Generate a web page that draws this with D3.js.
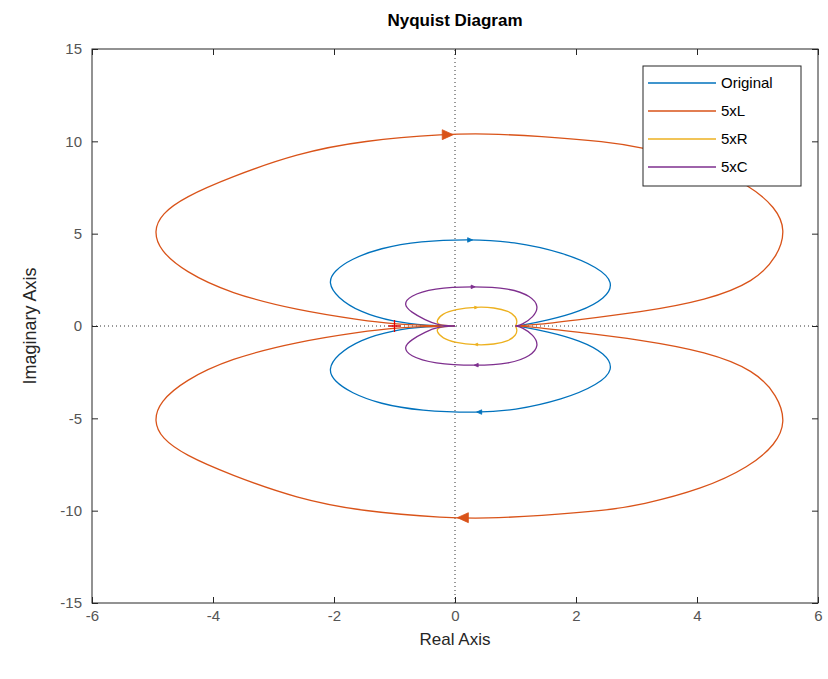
<!DOCTYPE html>
<html><head><meta charset="utf-8">
<script src="https://cdn.jsdelivr.net/npm/d3@7"></script>
<style>body{margin:0;background:#fff}svg{display:block}text{font-family:"Liberation Sans",Arial,sans-serif}</style>
</head><body><svg id="c" width="828" height="679"></svg>
<script>
// ---- data (real, imag) ----
const seriesNames = ["Original", "5xL", "5xR", "5xC"];
const seriesColors = ["#0072BD", "#D95319", "#EDB120", "#7E2F8E"];
const xTicks = [-6, -4, -2, 0, 2, 4, 6];
const yTicks = [-15, -10, -5, 0, 5, 10, 15];

const originalUpper = [[0,0],[-0.46,0.02],[-1.02,0.22],[-1.57,0.74],[-1.95,1.55],[-2.1,2.35],[-2.0,2.98],[-1.72,3.62],[-1.24,4.22],[-0.58,4.6],[0.25,4.7],[0.96,4.58],[1.79,3.98],[2.37,3.17],[2.63,2.35],[2.49,1.5],[2.07,0.78],[1.52,0.3],[1.07,0.02],[1,0]];
const originalLower = [[1,0],[1.07,-0.02],[1.52,-0.3],[2.07,-0.78],[2.49,-1.5],[2.63,-2.35],[2.37,-3.17],[1.79,-3.98],[0.96,-4.58],[0.4,-4.7],[-0.58,-4.6],[-1.24,-4.22],[-1.72,-3.62],[-2.0,-2.98],[-2.1,-2.35],[-1.95,-1.55],[-1.57,-0.74],[-1.02,-0.22],[-0.46,-0.02],[0,0]];

const fiveLUpper = [[0,0],[-0.5,0.03],[-1.02,0.11],[-1.52,0.3],[-2.61,0.85],[-3.72,1.77],[-4.47,2.95],[-4.88,4.1],[-4.98,5.15],[-4.85,6.08],[-4.47,6.98],[-3.72,8.05],[-2.61,9.35],[-1.52,10.05],[-0.12,10.4],[0.5,10.42],[1.4,10.28],[2.51,9.98],[3.06,9.7],[4.1,8.82],[4.87,7.62],[5.3,6.42],[5.47,5.2],[5.33,3.75],[4.95,2.4],[4.17,1.4],[3.06,0.74],[1.95,0.3],[1.29,0.05],[1,0]];
const fiveLLower = [[1,0],[1.29,-0.05],[1.95,-0.3],[3.06,-0.74],[4.17,-1.4],[4.95,-2.4],[5.33,-3.75],[5.47,-5.2],[5.3,-6.42],[4.87,-7.62],[4.1,-8.82],[3.06,-9.7],[2.51,-9.98],[1.4,-10.28],[0.5,-10.42],[-0.12,-10.4],[-1.52,-10.05],[-2.61,-9.35],[-3.72,-8.05],[-4.47,-6.98],[-4.85,-6.08],[-4.98,-5.15],[-4.88,-4.1],[-4.47,-2.95],[-3.72,-1.77],[-2.61,-0.85],[-1.52,-0.3],[-1.02,-0.11],[-0.5,-0.03],[0,0]];

const fiveRUpper = [[0,0],[-0.28,0.03],[-0.31,0.3],[-0.21,0.66],[0.0,0.9],[0.35,1.04],[0.65,1.0],[0.89,0.81],[1.01,0.5],[1.03,0.2],[1,0]];
const fiveRLower = [[1,0],[1.03,-0.2],[1.01,-0.5],[0.89,-0.81],[0.65,-1.0],[0.35,-1.04],[0.0,-0.9],[-0.21,-0.66],[-0.31,-0.3],[-0.28,-0.03],[0,0]];

const fiveCUpper = [[0,0],[-0.28,0.04],[-0.49,0.32],[-0.73,0.76],[-0.85,1.15],[-0.76,1.62],[-0.36,2.05],[0.3,2.16],[0.91,2.05],[1.26,1.62],[1.39,1.05],[1.3,0.49],[1.1,0.05],[1,0]];
const fiveCLower = [[1,0],[1.1,-0.05],[1.3,-0.49],[1.39,-1.05],[1.26,-1.62],[0.91,-2.05],[0.35,-2.16],[-0.36,-2.05],[-0.76,-1.62],[-0.85,-1.15],[-0.73,-0.76],[-0.49,-0.32],[-0.28,-0.04],[0,0]];

// arrow markers: [x, y, direction(+1 right / -1 left), size]
const arrowsOriginal = [[0.25,4.66,1,5],[0.4,-4.66,-1,5]];
const arrowsFiveL = [[-0.12,10.36,1,11],[0.13,-10.38,-1,11]];
const arrowsFiveR = [[0.35,1.0,1,3],[0.35,-1.0,-1,3]];
const arrowsFiveC = [[0.3,2.12,1,4],[0.35,-2.12,-1,4]];
const criticalPoint = [-1, 0];

const curves = [
  {up: originalUpper, lo: originalLower, ar: arrowsOriginal},
  {up: fiveLUpper, lo: fiveLLower, ar: arrowsFiveL},
  {up: fiveRUpper, lo: fiveRLower, ar: arrowsFiveR},
  {up: fiveCUpper, lo: fiveCLower, ar: arrowsFiveC}
];

// ---- layout ----
const pL = 92, pR = 818, pT = 49, pB = 603;
const svg = d3.select("#c");
const x = d3.scaleLinear().domain([-6, 6]).range([pL, pR]);
const y = d3.scaleLinear().domain([-15, 15]).range([pB, pT]);
const axisColor = "#262626", tickText = "#555";

// zero lines
svg.append("line").attr("x1", x(-6)).attr("x2", x(6)).attr("y1", y(0)).attr("y2", y(0))
  .attr("stroke", "#333").attr("stroke-width", 1).attr("stroke-dasharray", "1,3");
svg.append("line").attr("x1", x(0)).attr("x2", x(0)).attr("y1", y(-15)).attr("y2", y(15))
  .attr("stroke", "#333").attr("stroke-width", 1).attr("stroke-dasharray", "1,3");

const lineGen = d3.line().x(d => x(d[0])).y(d => y(d[1])).curve(d3.curveBasis);
const g = svg.append("g");
curves.forEach((c, i) => {
  [c.up, c.lo].forEach(pts => {
    g.append("path").attr("d", lineGen(pts)).attr("fill", "none")
      .attr("stroke", seriesColors[i]).attr("stroke-width", 1.3);
  });
  c.ar.forEach(a => {
    const cx = x(a[0]), cy = y(a[1]), s = a[3], d = a[2];
    g.append("path")
      .attr("d", `M${cx + d * s / 2},${cy} L${cx - d * s / 2},${cy - s * 0.45} L${cx - d * s / 2},${cy + s * 0.45} Z`)
      .attr("fill", seriesColors[i]).attr("stroke", seriesColors[i]).attr("stroke-width", 0.8);
  });
});
// critical point +
svg.append("path")
  .attr("d", `M${x(criticalPoint[0]) - 6},${y(criticalPoint[1])} h12 M${x(criticalPoint[0])},${y(criticalPoint[1]) - 6} v12`)
  .attr("stroke", "#e00000").attr("stroke-width", 1.3);

// axes box with inward ticks
const ax = svg.append("g");
ax.append("rect").attr("x", pL).attr("y", pT).attr("width", pR - pL).attr("height", pB - pT)
  .attr("fill", "none").attr("stroke", axisColor).attr("stroke-width", 1);
const fmt = d => String(d);
const axB = d3.axisBottom(x).tickValues(xTicks).tickSizeInner(-6).tickSizeOuter(0).tickPadding(7).tickFormat(fmt);
const axT = d3.axisTop(x).tickValues(xTicks).tickSizeInner(-6).tickSizeOuter(0).tickFormat("");
const axL = d3.axisLeft(y).tickValues(yTicks).tickSizeInner(-6).tickSizeOuter(0).tickPadding(10).tickFormat(fmt);
const axR = d3.axisRight(y).tickValues(yTicks).tickSizeInner(-6).tickSizeOuter(0).tickFormat("");
function styleAxis(sel) {
  sel.select(".domain").remove();
  sel.selectAll(".tick line").attr("stroke", axisColor);
  sel.selectAll(".tick text").attr("fill", tickText).style("font-size", "15px").style("font-family", '"Liberation Sans",Arial,sans-serif');
}
ax.append("g").attr("transform", `translate(0,${pB})`).call(axB).call(styleAxis);
ax.append("g").attr("transform", `translate(0,${pT})`).call(axT).call(styleAxis);
ax.append("g").attr("transform", `translate(${pL},0)`).call(axL).call(styleAxis);
ax.append("g").attr("transform", `translate(${pR},0)`).call(axR).call(styleAxis);

// title and labels
svg.append("text").attr("x", (pL + pR) / 2).attr("y", 26).attr("text-anchor", "middle")
  .style("font-size", "17px").style("font-weight", "bold").attr("fill", "#000").text("Nyquist Diagram");
svg.append("text").attr("x", (pL + pR) / 2).attr("y", 645).attr("text-anchor", "middle")
  .style("font-size", "17px").attr("fill", axisColor).text("Real Axis");
svg.append("text").attr("transform", `translate(36,${(pT + pB) / 2}) rotate(-90)`).attr("text-anchor", "middle")
  .style("font-size", "18px").attr("fill", axisColor).text("Imaginary Axis");

// legend
const lg = svg.append("g");
lg.append("rect").attr("x", 643).attr("y", 66).attr("width", 158).attr("height", 120)
  .attr("fill", "#fff").attr("stroke", axisColor).attr("stroke-width", 1);
seriesNames.forEach((n, i) => {
  const yy = 83 + i * 28;
  lg.append("line").attr("x1", 648).attr("x2", 716).attr("y1", yy).attr("y2", yy)
    .attr("stroke", seriesColors[i]).attr("stroke-width", 1.3);
  lg.append("text").attr("x", 721).attr("y", yy + 5).style("font-size", "15px").attr("fill", "#000").text(n);
});
</script></body></html>
